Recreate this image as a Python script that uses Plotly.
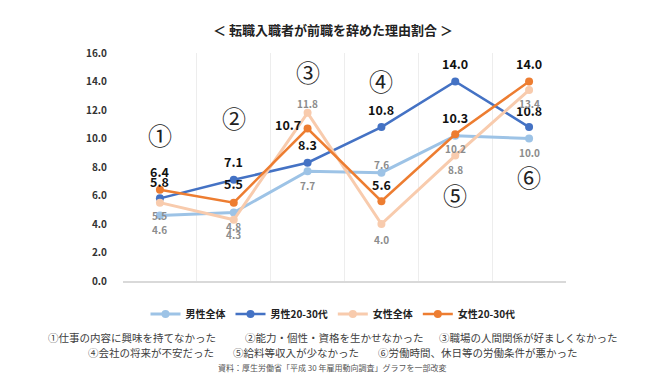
import plotly.graph_objects as go

# ---------------- data ----------------
CATEGORIES = ["①", "②", "③", "④", "⑤", "⑥"]
REASONS = [
    "①仕事の内容に興味を持てなかった",
    "②能力・個性・資格を生かせなかった",
    "③職場の人間関係が好ましくなかった",
    "④会社の将来が不安だった",
    "⑤給料等収入が少なかった",
    "⑥労働時間、休日等の労働条件が悪かった",
]
SERIES_NAMES = ["男性全体", "男性20-30代", "女性全体", "女性20-30代"]
MALE_ALL = [4.6, 4.8, 7.7, 7.6, 10.2, 10.0]
MALE_2030 = [5.8, 7.1, 8.3, 10.8, 14.0, 10.8]
FEMALE_ALL = [5.5, 4.3, 11.8, 4.0, 8.8, 13.4]
FEMALE_2030 = [6.4, 5.5, 10.7, 5.6, 10.3, 14.0]
Y_TICKS = [0, 2, 4, 6, 8, 10, 12, 14, 16]
TITLE = "＜ 転職入職者が前職を辞めた理由割合 ＞"
SOURCE = "資料：厚生労働省「平成 30 年雇用動向調査」グラフを一部改変"

# ---------------- style ----------------
W, H = 650, 392
ML, MR, MT, MB = 115, 92, 45, 104
PW, PH = W - ML - MR, H - MT - MB
FONT = "Noto Sans CJK JP"

COLORS = ["#9DC3E6", "#4472C4", "#F8CBAD", "#ED7D31"]
WIDTHS = [3, 2.5, 3, 2.5]
# label offsets (xshift, yshift) in px per series / point
LABEL_OFF = [
    [(0, -14), (0, -14), (0, -14), (0, 8), (0, -13), (0, -14)],
    [(0, 17), (0, 18), (0, 18), (0, 18), (0, 18), (0, 17)],
    [(0, -13), (0, -15), (0, 9), (0, -15), (0, -14), (0, -13)],
    [(0, 18), (0, 19), (-20, 4), (0, 17), (0, 17), (0, 18)],
]
LABEL_STYLE = [
    dict(size=10, color="#8C8C8C"),
    dict(size=12.5, color="#111111"),
    dict(size=10, color="#8C8C8C"),
    dict(size=12.5, color="#111111"),
]
CIRCLE_Y = [10.3, 11.5, 14.7, 14.1, 6.05, 7.3]


def px_x(px):
    return (px - ML) / PW


def px_y(py):
    return (H - MB - py) / PH


series = [MALE_ALL, MALE_2030, FEMALE_ALL, FEMALE_2030]
xs = list(range(len(CATEGORIES)))

fig = go.Figure()
for name, vals, col, w in zip(SERIES_NAMES, series, COLORS, WIDTHS):
    fig.add_trace(go.Scatter(
        x=xs, y=vals, name=name, mode="lines+markers",
        line=dict(color=col, width=w),
        marker=dict(color=col, size=8),
        hoverinfo="skip",
    ))

annotations = []
for si, vals in enumerate(series):
    for i, v in enumerate(vals):
        dx, dy = LABEL_OFF[si][i]
        annotations.append(dict(
            x=i, y=v, xref="x", yref="y", text=f"<b>{v:.1f}</b>",
            showarrow=False, xshift=dx, yshift=dy,
            font=dict(family=FONT, **LABEL_STYLE[si]),
        ))

for i, c in enumerate(CATEGORIES):
    annotations.append(dict(
        x=i, y=CIRCLE_Y[i], xref="x", yref="y", text=c, showarrow=False,
        font=dict(family=FONT, size=24, color="#222222"),
    ))

# footnote reasons (two rows of three)
reason_pos = [(124, 348), (326, 348), (520, 348), (143, 364), (288, 364), (470, 364)]
for txt, (px, py) in zip(REASONS, reason_pos):
    annotations.append(dict(
        x=px_x(px), y=px_y(py), xref="paper", yref="paper", text=txt,
        showarrow=False, xanchor="center", yanchor="middle",
        font=dict(family=FONT, size=10.5, color="#404040"),
    ))
annotations.append(dict(
    x=px_x(324), y=px_y(380), xref="paper", yref="paper", text=SOURCE,
    showarrow=False, xanchor="center", yanchor="middle",
    font=dict(family=FONT, size=8, color="#555555"),
))

fig.update_layout(
    width=W, height=H,
    margin=dict(l=ML, r=MR, t=MT, b=MB, pad=0),
    paper_bgcolor="white", plot_bgcolor="white",
    font=dict(family=FONT, color="#222222"),
    title=dict(
        text=f"<b>{TITLE}</b>", x=0.5, xref="container", xanchor="center",
        y=1 - 22 / H, yref="container", yanchor="middle",
        font=dict(family=FONT, size=13, color="#222222"),
    ),
    xaxis=dict(
        range=[-0.5, len(CATEGORIES) - 0.5],
        tickvals=[i - 0.5 for i in range(len(CATEGORIES) + 1)],
        showticklabels=False, ticks="",
        showgrid=True, gridcolor="#EDEDED", gridwidth=1,
        showline=True, linecolor="#D9D9D9", linewidth=1.5,
        zeroline=False, fixedrange=True,
    ),
    yaxis=dict(
        range=[0, 16], tickvals=Y_TICKS,
        ticktext=[f"{t:.1f}" for t in Y_TICKS],
        tickfont=dict(family=FONT, size=10, color="#333333", weight="bold"),
        showgrid=False, zeroline=False, showline=False, ticks="",
        ticklabelstandoff=15, fixedrange=True,
    ),
    legend=dict(
        orientation="h", x=0.5, xref="container", xanchor="center",
        y=1 - 306 / H, yref="container", yanchor="middle",
        font=dict(family=FONT, size=10, color="#222222", weight="bold"),
        itemwidth=30, tracegroupgap=0,
    ),
    annotations=annotations,
    showlegend=True,
)

fig.write_html("out.html")
